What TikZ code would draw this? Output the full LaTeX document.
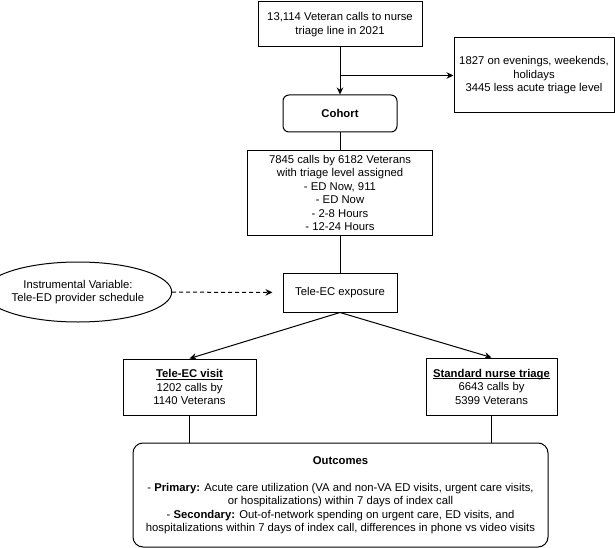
\documentclass[tikz,border=0pt]{standalone}
\usepackage{fontspec}
\setmainfont{Liberation Sans}
\usetikzlibrary{shapes.geometric,arrows.meta,positioning}

\newcommand{\ulbf}[1]{\setbox0\hbox{\textbf{#1}}\rlap{\rule[-1.8pt]{\wd0}{0.8pt}}\box0}

\tikzstyle{every node}+=[font=\fontsize{11.3}{13.5}\selectfont,inner sep=0pt,align=center]
\tikzstyle{every path}+=[line width=1pt]
\tikzstyle{box}=[draw,rectangle]
\tikzstyle{rbox}=[draw,rectangle,rounded corners=6pt]
\tikzstyle{arr}=[-{Stealth[length=7pt,width=6.5pt]}]
\tikzstyle{edge1}=[arr,dash pattern=on 4pt off 3pt]

\begin{document}
\begin{tikzpicture}[x=1pt,y=-1pt]
\useasboundingbox (0,0) rectangle (615,548);

\node[box,minimum width=164pt,minimum height=45pt] (calls) at (340,24.5)
  {13,114 Veteran calls to nurse\\triage line in 2021};
\node[box,minimum width=160pt,minimum height=75pt] (excl) at (534,75.5)
  {1827 on evenings, weekends,\\holidays\\3445 less acute triage level};
\node[rbox,minimum width=114pt,minimum height=37pt] (cohort) at (340,113.5)
  {\textbf{Cohort}};
\node[box,minimum width=185pt,minimum height=84pt] (triage) at (340,193)
  {7845 calls by 6182 Veterans\\with triage level assigned\\- ED Now, 911\\- ED Now\\- 2-8 Hours\\- 12-24 Hours};
\node[box,minimum width=114pt,minimum height=39pt] (exposure) at (340,292.5)
  {Tele-EC exposure};
\node[draw,ellipse,minimum width=154pt,minimum height=60pt] (iv) at (78,292)
  {Instrumental Variable:\\Tele-ED provider schedule};
\node[box,minimum width=133pt,minimum height=56pt] (visit) at (189.5,387)
  {\ulbf{Tele-EC visit}\\1202 calls by\\1140 Veterans};
\node[box,minimum width=131pt,minimum height=57pt] (std) at (491.5,386.5)
  {\ulbf{Standard nurse triage}\\6643 calls by\\5399 Veterans};
\node[draw,rectangle,rounded corners=10pt,minimum width=415pt,minimum height=104pt] (outcomes) at (340.5,495)
  {\textbf{Outcomes}\\[13.5pt]
   - \textbf{Primary:} Acute care utilization (VA and non-VA ED visits, urgent care visits,\\
   or hospitalizations) within 7 days of index call\\
   - \textbf{Secondary:} Out-of-network spending on urgent care, ED visits, and\\
   hospitalizations within 7 days of index call, differences in phone vs video visits};

\coordinate (split) at (calls.south |- excl.west);

\draw[arr] (calls) -- (cohort);
\draw[arr] (split) -- (excl);
\draw (cohort) -- (triage);
\draw (triage) -- (exposure);
\draw[edge1,shorten >=10pt] (iv) -- (exposure);
\draw[arr] (exposure.south) -- (visit.north);
\draw[arr] (exposure.south) -- (std.north);
\draw (visit) -- (visit.south |- outcomes.north);
\draw (std) -- (std.south |- outcomes.north);
\end{tikzpicture}
\end{document}
